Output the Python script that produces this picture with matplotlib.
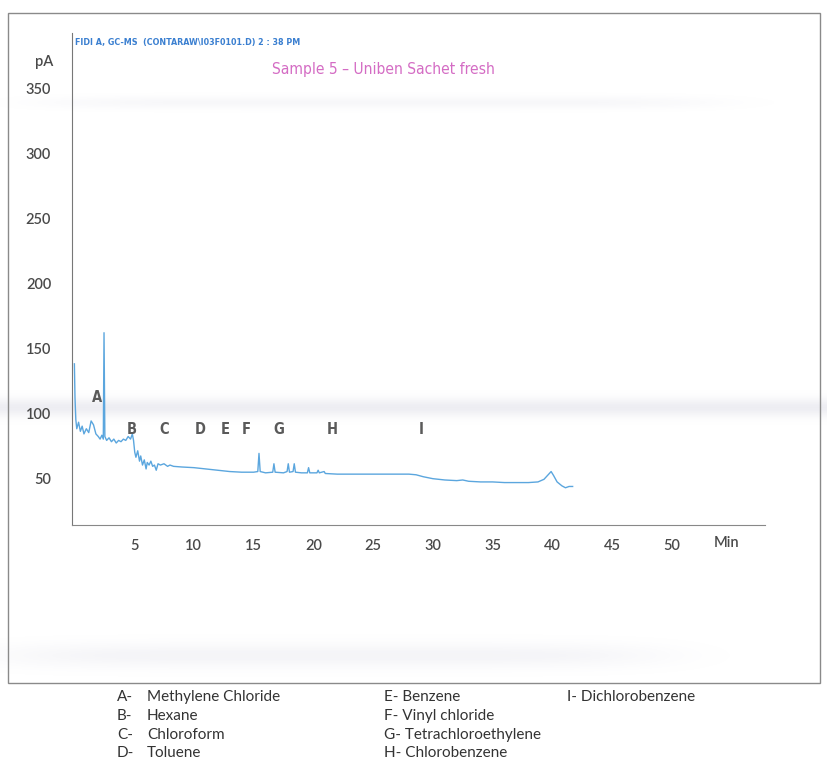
import numpy as np
import matplotlib
matplotlib.use("Agg")
import matplotlib.pyplot as plt
from matplotlib.patches import Rectangle
from matplotlib import font_manager

# ---- chromatogram trace (retention time in min, detector signal in pA) ----
time_min = [0.0, 0.05, 0.12, 0.2, 0.35, 0.5, 0.65, 0.8, 1.0, 1.2, 1.4, 1.6, 1.8,
            2.0, 2.15, 2.3, 2.42, 2.48, 2.55, 2.7, 2.9, 3.1, 3.3, 3.5, 3.7, 3.9,
            4.1, 4.3, 4.5, 4.7, 4.85, 4.95, 5.05, 5.15, 5.3, 5.45, 5.55, 5.7,
            5.85, 6.0, 6.1, 6.25, 6.4, 6.55, 6.7, 6.85, 7.0, 7.2, 7.5, 7.8, 8.0,
            8.3, 9.0, 10.0, 11.0, 12.0, 13.0, 14.0, 15.0, 15.35, 15.45, 15.55,
            16.0, 16.6, 16.7, 16.8, 17.5, 17.8, 17.9, 18.0, 18.3, 18.4, 18.5,
            19.0, 19.5, 19.6, 19.7, 20.3, 20.4, 20.5, 20.9, 21.0, 22.0, 24.0,
            26.0, 28.0, 28.6, 29.2, 30.0, 31.0, 32.0, 32.5, 33.0, 34.0, 35.0,
            36.0, 37.0, 38.0, 38.8, 39.3, 39.7, 39.9, 40.1, 40.4, 40.8, 41.1,
            41.4, 41.7]
signal_pa = [138, 112, 95, 88, 93, 86, 90, 84, 88, 85, 94, 91, 84,
             82, 80, 83, 80, 162, 82, 79, 81, 78, 80, 77, 79, 78,
             80, 79, 82, 80, 84, 79, 70, 66, 71, 63, 67, 60,
             64, 57, 62, 60, 63, 59, 60, 56, 61, 60, 61, 59, 60,
             59, 58.5, 58, 57, 56, 55, 54.5, 54.5, 55, 69, 55,
             54, 54.5, 61, 54.5, 54, 55, 61, 54.5, 55, 61, 54.5,
             54, 54, 58, 54, 54, 56, 54, 55, 53.5, 53, 53,
             53, 53, 52.5, 51, 49.5, 48.5, 48, 48.5, 47.5, 47, 47,
             46.5, 46.5, 46.5, 47, 49, 53, 55, 52, 47, 44, 42.5,
             43.5, 43.5]

# ---- peak labels ----
peak_letters = ["A", "B", "C", "D", "E", "F", "G", "H", "I"]
peak_label_x = [1.9, 4.8, 7.5, 10.5, 12.6, 14.4, 17.1, 21.6, 29.0]
peak_label_y = [112, 87.5, 87.5, 87.5, 87.5, 87.5, 87.5, 87.5, 87.5]

# ---- axes ticks ----
x_ticks = [5, 10, 15, 20, 25, 30, 35, 40, 45, 50]
y_ticks = [50, 100, 150, 200, 250, 300, 350]

# ---- compound key ----
key_col1 = [("A-", "Methylene Chloride"), ("B-", "Hexane"),
            ("C-", "Chloroform"), ("D-", "Toluene")]
key_col2 = ["E- Benzene", "F- Vinyl chloride", "G- Tetrachloroethylene",
            "H- Chlorobenzene"]
key_col3 = ["I- Dichlorobenzene"]

header_text = "FIDI A, GC-MS  (CONTARAW\\I03F0101.D) 2 : 38 PM"
title_text = "Sample 5 \u2013 Uniben Sachet fresh"

installed = {f.name for f in font_manager.fontManager.ttflist}
body = "Lato" if "Lato" in installed else "DejaVu Sans"
narrow = dict(family="DejaVu Sans", fontstretch="condensed")

W, H = 827, 759
fig = plt.figure(figsize=(W / 100, H / 100), dpi=100)
fig.patch.set_facecolor("white")

# faint photocopy streaks across the page
bg = fig.add_axes([0, 0, 1, 1], zorder=-5)
bg.set_xlim(0, W)
bg.set_ylim(H, 0)
bg.axis("off")
yy = np.arange(H)[:, None]
xx = np.arange(W)[None, :]
haze = (0.07 * np.exp(-((yy - 102) / 6.0) ** 2) * np.exp(-((xx - 380) / 330.0) ** 6)
        + 0.15 * np.exp(-((yy - 407) / 9.0) ** 2)
        + 0.09 * np.exp(-((yy - 655) / 12.0) ** 2) * np.exp(-((xx - 330) / 330.0) ** 6))
rgba = np.zeros((H, W, 4))
rgba[..., 0] = 0.55
rgba[..., 1] = 0.55
rgba[..., 2] = 0.68
rgba[..., 3] = np.clip(haze, 0, 1)
bg.imshow(rgba, extent=(0, W, H, 0), aspect="auto", interpolation="bilinear")
bg.add_patch(Rectangle((8, 13), 812, 670, fill=False, edgecolor="#8a8a8a", lw=1.0))

# chromatogram axes
left, right = 72 / W, 765 / W
bottom, top = 1 - 525 / H, 1 - 33 / H
ax = fig.add_axes([left, bottom, right - left, top - bottom])
ax.set_facecolor("none")
ax.plot(time_min, signal_pa, color="#5ba6de", lw=1.0)
ax.set_xlim(-0.2, 57.8)
ax.set_ylim(13.8, 393)
ax.spines["top"].set_visible(False)
ax.spines["right"].set_visible(False)
ax.spines["left"].set_color("#777777")
ax.spines["bottom"].set_color("#888888")
ax.set_xticks(x_ticks)
ax.set_yticks(y_ticks)
ax.tick_params(length=0, colors="#4a4a4a", labelsize=10.5)
ax.tick_params(axis="x", pad=10)
ax.tick_params(axis="y", pad=15)
for lab in ax.get_xticklabels() + ax.get_yticklabels():
    lab.set_fontfamily(body)
    lab.set_fontweight("semibold")

ax.text(54.6, -0.036, "Min", transform=ax.get_xaxis_transform(),
        ha="center", va="center", fontsize=10.5, color="#4a4a4a",
        family=body, fontweight="semibold")
ax.text(-0.04, 371, "pA", transform=ax.get_yaxis_transform(),
        ha="center", va="center", fontsize=10.5, color="#4a4a4a",
        family=body, fontweight="semibold")

ax.text(0.005, 0.98, header_text, transform=ax.transAxes, ha="left", va="center",
        fontsize=6.4, color="#3a7fd0", fontweight="bold", **narrow)
ax.text(0.45, 0.925, title_text, transform=ax.transAxes, ha="center", va="center",
        fontsize=11.2, color="#d46cc4", **narrow)

for letter, lx, ly in zip(peak_letters, peak_label_x, peak_label_y):
    ax.text(lx, ly, letter, ha="center", va="center", fontsize=10.5,
            color="#5a5a5a", fontweight="bold", **narrow)

# compound key below the frame
row_y = [697, 716, 735, 753]
kw = dict(ha="left", va="center", fontsize=11, color="#333333", family=body)
for (code, name), ry in zip(key_col1, row_y):
    bg.text(117, ry, code, **kw)
    bg.text(147, ry, name, **kw)
for name, ry in zip(key_col2, row_y):
    bg.text(384, ry, name, **kw)
for name, ry in zip(key_col3, row_y):
    bg.text(567, ry, name, **kw)

fig.savefig("out.png", dpi=100)
